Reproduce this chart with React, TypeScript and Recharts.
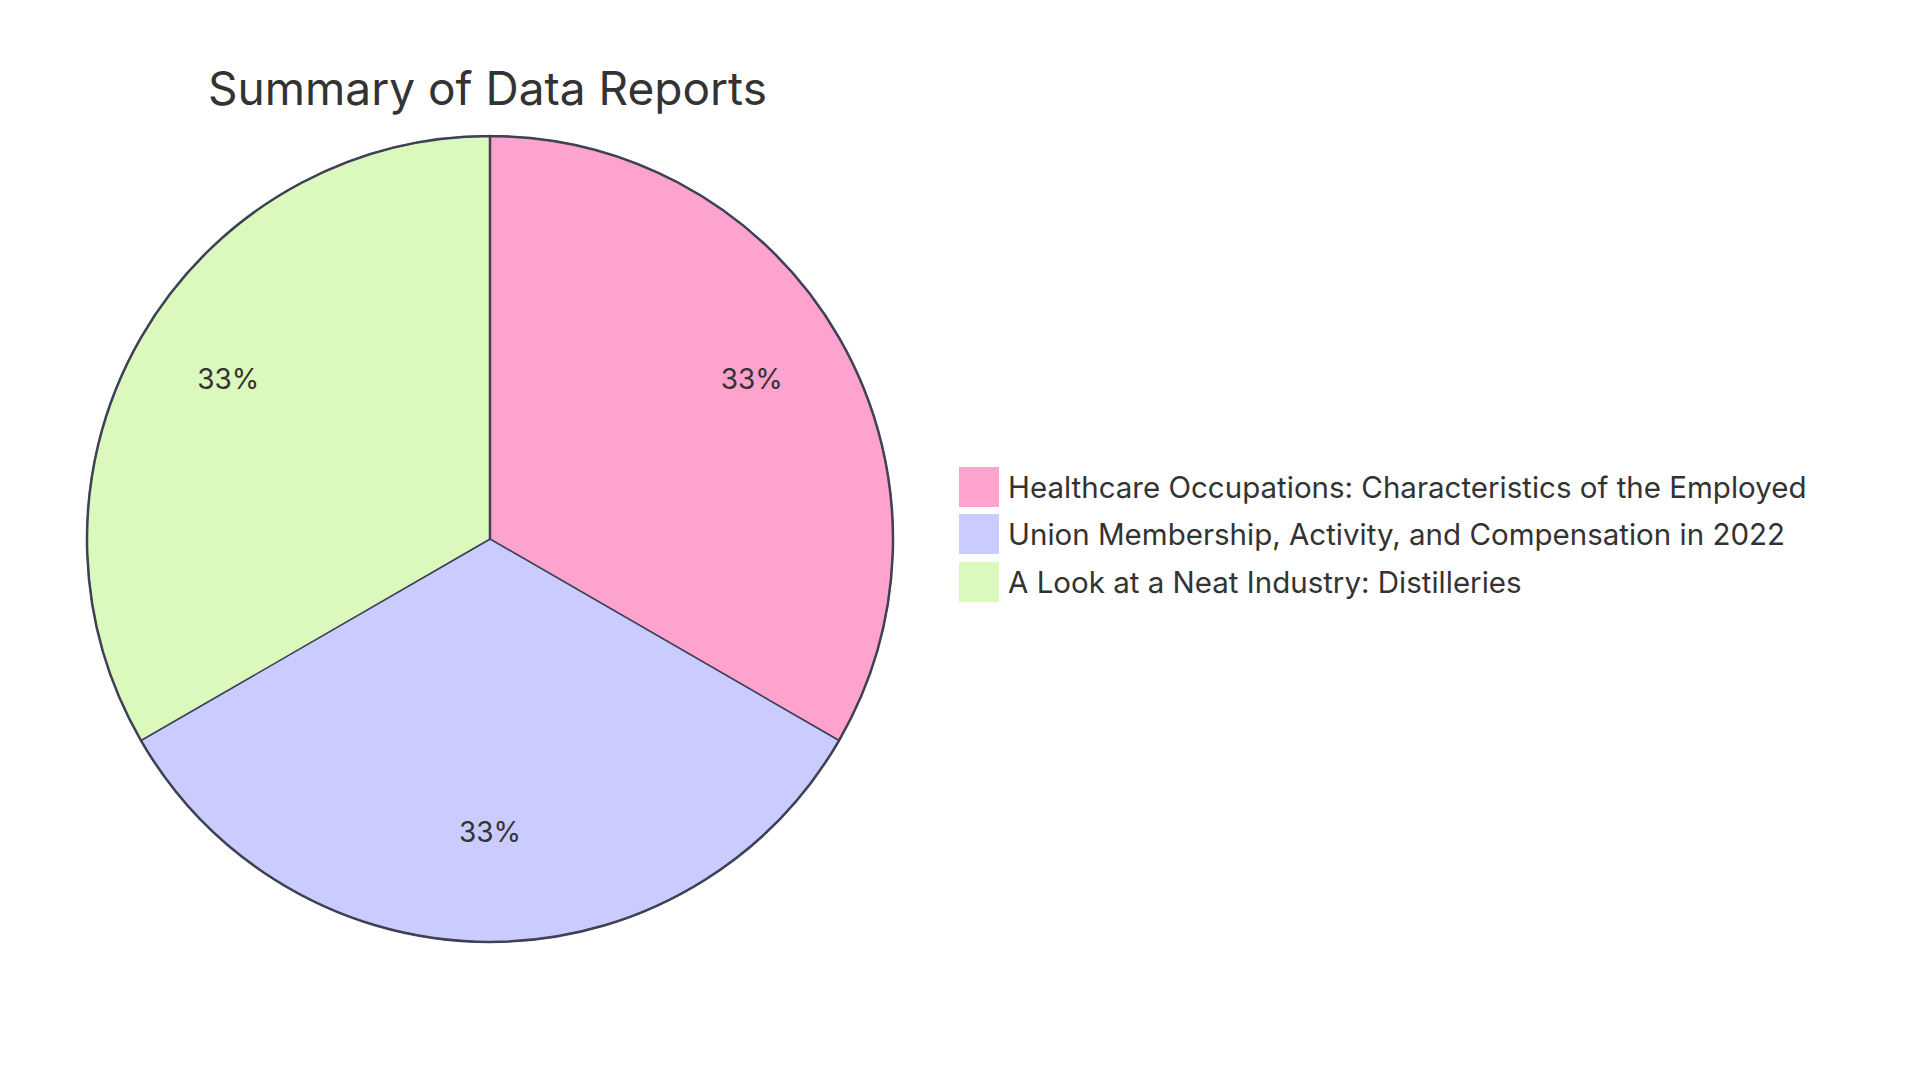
import React from 'react';
import { PieChart, Pie, Cell } from 'recharts';

const categories = [
  'Healthcare Occupations: Characteristics of the Employed',
  'Union Membership, Activity, and Compensation in 2022',
  'A Look at a Neat Industry: Distilleries',
];
const values = [1, 1, 1];
const colors = ['#FEA3CE', '#CACBFE', '#DBF9BC'];
const title = 'Summary of Data Reports';

const data = categories.map((name, i) => ({ name, value: values[i] }));
const ringData = [{ name: 'ring', value: 1 }];

const FONT = 'Inter, "Open Sans", sans-serif';
const STROKE = '#3F4156';
const CX = 490;
const CY = 539;
const R = 403;

const RAD = Math.PI / 180;
const renderLabel = (p: any) => {
  const r = p.outerRadius * 0.75;
  const x = p.cx + r * Math.cos(-p.midAngle * RAD);
  const y = p.cy + r * Math.sin(-p.midAngle * RAD) - 9;
  return (
    <text x={x} y={y} textAnchor="middle" dominantBaseline="central" fill="#333" fontSize={28} fontFamily={FONT}>
      {`${Math.round(p.percent * 100)}%`}
    </text>
  );
};

export default function App() {
  return (
    <div style={{ position: 'absolute', left: 0, top: 0, width: 1920, height: 1080, background: '#fff' }}>
      <div
        style={{
          position: 'absolute',
          left: 208,
          top: 88,
          transform: 'translateY(-50%)',
          fontFamily: FONT,
          fontSize: 46,
          color: '#333',
          whiteSpace: 'nowrap',
          zIndex: 2,
        }}
      >
        {title}
      </div>
      <PieChart width={1920} height={1080} margin={{ top: 0, right: 0, bottom: 0, left: 0 }}>
        <Pie
          data={data}
          dataKey="value"
          nameKey="name"
          cx={CX}
          cy={CY}
          outerRadius={R}
          startAngle={90}
          endAngle={-270}
          stroke={STROKE}
          strokeWidth={1.5}
          label={renderLabel}
          labelLine={false}
          isAnimationActive={false}
        >
          {data.map((d, i) => (
            <Cell key={d.name} fill={colors[i]} />
          ))}
        </Pie>
        <Pie
          data={ringData}
          dataKey="value"
          cx={CX}
          cy={CY}
          outerRadius={R}
          startAngle={90}
          endAngle={-270}
          fill="none"
          stroke={STROKE}
          strokeWidth={2.5}
          isAnimationActive={false}
        />
      </PieChart>
      <div style={{ position: 'absolute', left: 959, top: 463, fontFamily: FONT }}>
        {categories.map((c, i) => (
          <div key={c} style={{ display: 'flex', alignItems: 'center', height: 47.5 }}>
            <div style={{ width: 40, height: 40, background: colors[i], marginRight: 9 }} />
            <span style={{ fontSize: 29.5, color: '#333', whiteSpace: 'nowrap' }}>{c}</span>
          </div>
        ))}
      </div>
    </div>
  );
}
